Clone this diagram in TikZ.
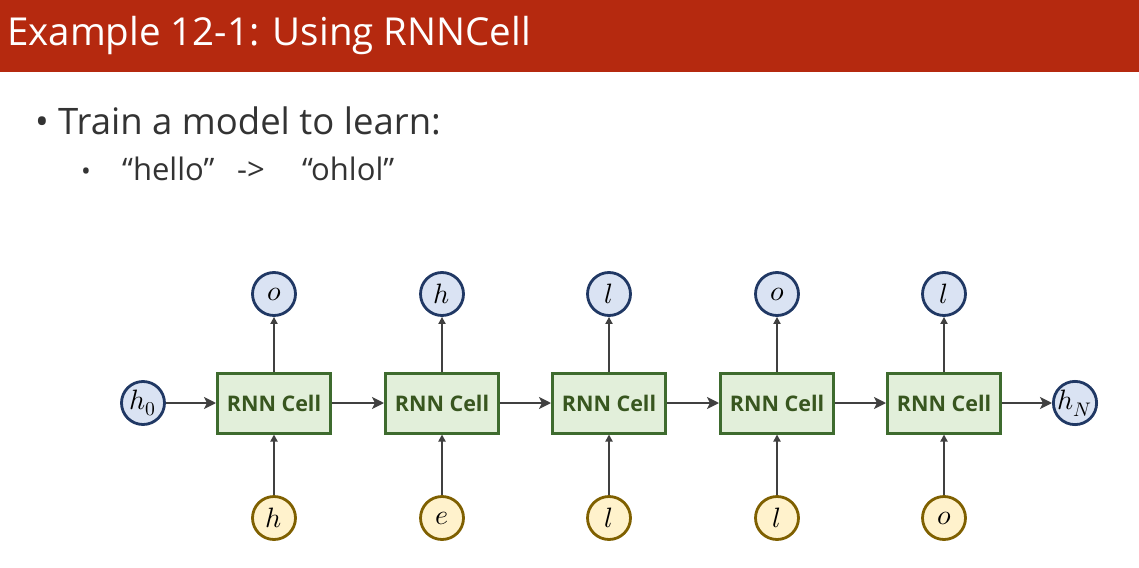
\documentclass[tikz,border=0pt]{standalone}
\usepackage{fontspec}
\setmainfont{Open Sans}
\usepackage{unicode-math}
\setmathfont{Latin Modern Math}
\usetikzlibrary{arrows.meta}
\definecolor{titlered}{HTML}{B5290F}
\definecolor{boxfill}{HTML}{E2EFDA}
\definecolor{boxdraw}{HTML}{3E6B2E}
\definecolor{boxtext}{HTML}{38561F}
\definecolor{outfill}{HTML}{DAE3F3}
\definecolor{outdraw}{HTML}{203864}
\definecolor{infill}{HTML}{FFF2CC}
\definecolor{indraw}{HTML}{7F6000}
\definecolor{arrowcol}{HTML}{404040}
\definecolor{bodytext}{HTML}{333333}
\tikzset{
  cellbox/.style={draw=boxdraw, fill=boxfill, line width=3pt, minimum width=113pt, minimum height=60pt, inner sep=0pt, font=\fontsize{21.5}{24}\selectfont\bfseries, text=boxtext},
  outcirc/.style={circle, draw=outdraw, fill=outfill, line width=2.8pt, minimum size=43pt, inner sep=0pt, font=\fontsize{28}{30}\selectfont},
  incirc/.style={circle, draw=indraw, fill=infill, line width=2.8pt, minimum size=43pt, inner sep=0pt, font=\fontsize{28}{30}\selectfont},
  conn/.style={draw=arrowcol, line width=2.8pt, -{Stealth[length=12pt,width=12pt,inset=3pt]}},
  vconn/.style={draw=arrowcol, line width=2.8pt, -{Triangle[length=7pt,width=7pt]}},
}
\begin{document}
\begin{tikzpicture}[x=1pt,y=-1pt]
\useasboundingbox (0,0) rectangle (1139,567);
\fill[white] (0,0) rectangle (1139,567);
\fill[titlered] (0,0) rectangle (1139,72);
\node[anchor=base west, text=white, font=\fontsize{38.5}{42}\selectfont, inner sep=0pt] (title) at (7,46) {Example 12-1: Using RNNCell};
\node[anchor=base west, text=bodytext, font=\fontsize{36.5}{40}\selectfont, inner sep=0pt] (b1) at (35,134) {\rlap{•}\hspace{23pt}Train a model to learn:};
\node[anchor=base west, text=bodytext, font=\fontsize{31}{34}\selectfont, inner sep=0pt] (b2) at (81,180) {\rlap{\fontsize{26}{28}\selectfont •}\hspace{41pt}\rlap{“hello”}\hspace{115pt}\rlap{->}\hspace{65pt}“ohlol”};
\foreach \i/\x/\o/\inp in {1/274/o/h, 2/442/h/e, 3/609/l/l, 4/777/o/l, 5/944/l/o} {
  \node[cellbox] (c\i) at (\x,403) {RNN Cell};
  \node[outcirc] (o\i) at (\x,294) {$\o$};
  \node[incirc] (in\i) at (\x,518) {$\inp$};
  \draw[vconn] (c\i) -- (o\i);
  \draw[vconn] (in\i) -- (c\i);
}
\node[outcirc] (h0) at (143,403) {$h_0$};
\node[outcirc] (hN) at (1075,403) {$h_N$};
\draw[conn] (h0) -- (c1);
\draw[conn] (c1) -- (c2);
\draw[conn] (c2) -- (c3);
\draw[conn] (c3) -- (c4);
\draw[conn] (c4) -- (c5);
\draw[conn] (c5) -- (hN);
\end{tikzpicture}
\end{document}
